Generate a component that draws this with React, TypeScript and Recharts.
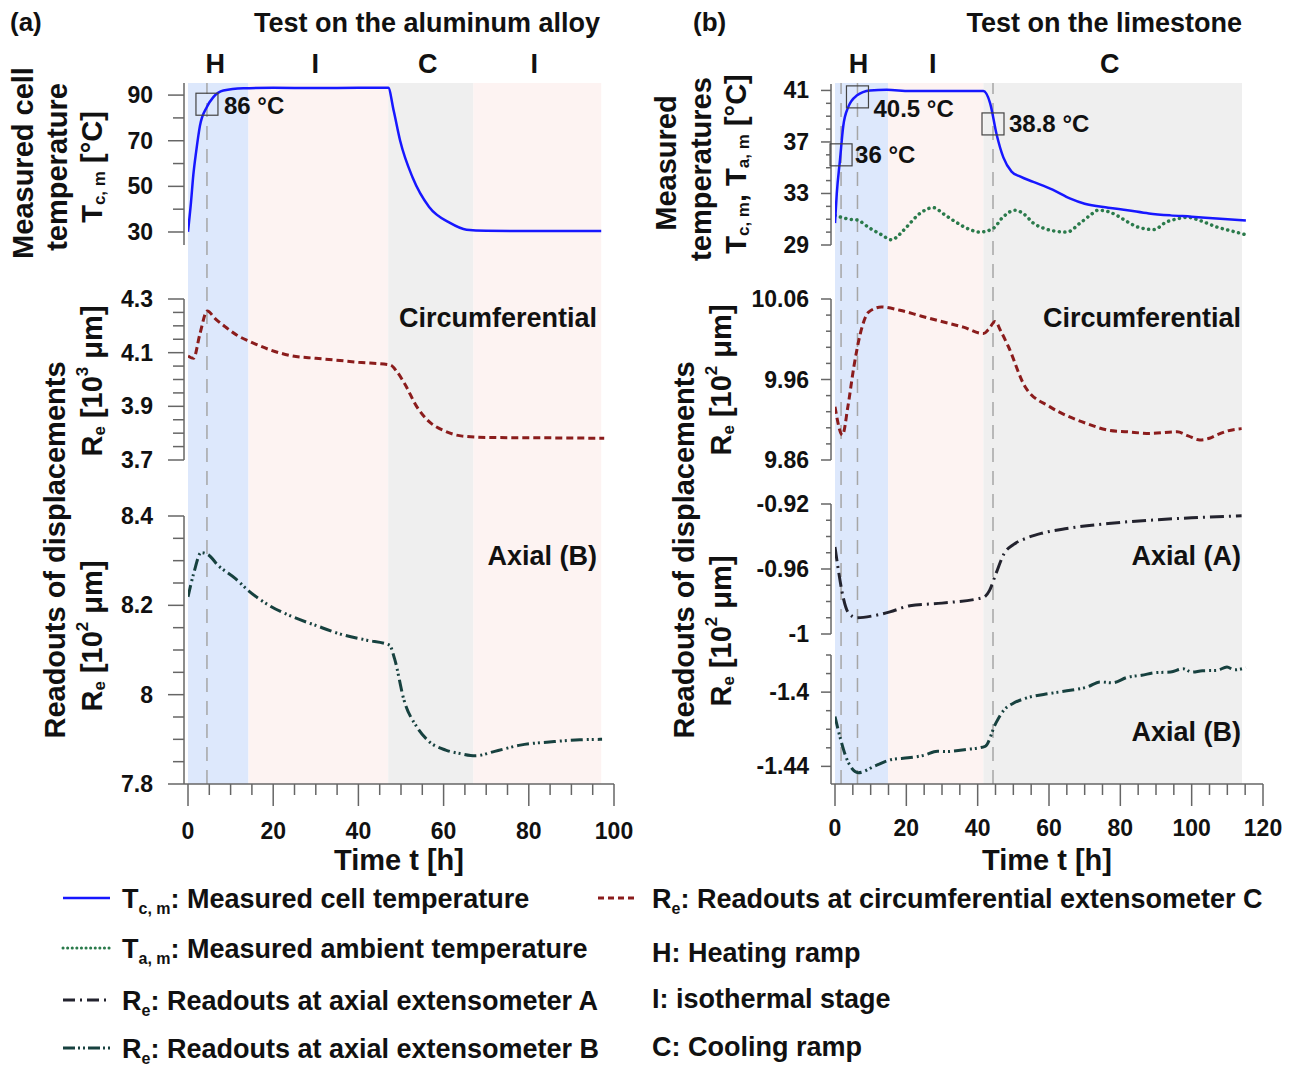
import React from "react";
import {
  LineChart,
  Line,
  XAxis,
  YAxis,
  ReferenceArea,
  ReferenceLine,
  ReferenceDot,
} from "recharts";

const FONT = '"Liberation Sans", Arial, Helvetica, sans-serif';
const PAGE_W = 1298;
const PAGE_H = 1066;
const AXIS = "#666";

const BLUE = "#1717ff";
const GREEN = "#2a7a4b";
const RED = "#8b1c1c";
const DARK = "#23232e";
const TEAL = "#17413f";

// ---- phases (hours) ----
const alPhaseNames = ["H", "I", "C", "I"];
const alPhaseStart = [0, 14.2, 47, 67];
const alPhaseEnd = [14.2, 47, 67, 97];
const lsPhaseNames = ["H", "I", "C"];
const lsPhaseStart = [0, 14.9, 41.6];
const lsPhaseEnd = [14.9, 41.6, 114.1];
const phaseFill: Record<string, string> = { H: "#dde8fc", I: "#fdf3f2", C: "#efefef" };

const alGuides = [4.45];
const lsGuides = [1.7, 6.3, 44.3];

// ---- x ticks ----
const alXTicks = [0, 5, 10, 15, 20, 25, 30, 35, 40, 45, 50, 55, 60, 65, 70, 75, 80, 85, 90, 95, 100];
const alXMajor = [0, 20, 40, 60, 80, 100];
const lsXTicks = [0, 5, 10, 15, 20, 25, 30, 35, 40, 45, 50, 55, 60, 65, 70, 75, 80, 85, 90, 95, 100, 105, 110, 115, 120];
const lsXMajor = [0, 20, 40, 60, 80, 100, 120];

// ---- y ticks ----
const alTempTicks = [30, 40, 50, 60, 70, 80, 90];
const alTempMajor = [30, 50, 70, 90];
const alCircTicks = [3.7, 3.75, 3.8, 3.85, 3.9, 3.95, 4, 4.05, 4.1, 4.15, 4.2, 4.25, 4.3];
const alCircMajor = [3.7, 3.9, 4.1, 4.3];
const alAxBTicks = [7.8, 7.85, 7.9, 7.95, 8, 8.05, 8.1, 8.15, 8.2, 8.25, 8.3, 8.35, 8.4];
const alAxBMajor = [7.8, 8, 8.2, 8.4];
const lsTempTicks = [29, 30, 31, 32, 33, 34, 35, 36, 37, 38, 39, 40, 41];
const lsTempMajor = [29, 33, 37, 41];
const lsCircTicks = [9.86, 9.88, 9.9, 9.92, 9.94, 9.96, 9.98, 10, 10.02, 10.04, 10.06];
const lsCircMajor = [9.86, 9.96, 10.06];
const lsAxATicks = [-1, -0.99, -0.98, -0.97, -0.96, -0.95, -0.94, -0.93, -0.92];
const lsAxAMajor = [-1, -0.96, -0.92];
const lsAxBTicks = [-1.44, -1.43, -1.42, -1.41, -1.4, -1.39, -1.38];
const lsAxBMajor = [-1.44, -1.4];

// ---- (a) aluminum alloy ----
const alTempT = [0, 0.7, 1.25, 1.9, 2.8, 4.4, 5.9, 8.3, 13, 20, 30, 40, 47, 48.3, 49.8, 52.7, 56.6, 61.5, 65.4, 70, 80, 90, 97];
const alTempV = [30.1, 43, 55, 65, 76.5, 84.7, 89, 92, 93, 93.2, 93.1, 93.2, 93.2, 83, 70, 54, 41, 34, 31, 30.5, 30.4, 30.4, 30.4];

const alCircT = [0, 1.3, 2.8, 4.5, 6.5, 8.7, 11.5, 14.6, 19, 24.4, 30, 34.2, 40, 47.5, 49, 50.8, 53.7, 56.6, 60, 64.4, 70, 80, 90, 97.7];
const alCircV = [4.088, 4.079, 4.17, 4.255, 4.225, 4.197, 4.165, 4.141, 4.112, 4.088, 4.079, 4.073, 4.064, 4.054, 4.03, 3.986, 3.899, 3.843, 3.81, 3.789, 3.784, 3.783, 3.782, 3.781];

const alAxBT = [0, 1.35, 3.1, 4.8, 7, 11, 14.3, 19, 24.4, 30, 36, 42, 47.3, 48.5, 50.7, 53.7, 56.6, 60.5, 64, 67.4, 72, 78, 86, 92, 97.2];
const alAxBV = [8.219, 8.272, 8.318, 8.313, 8.29, 8.261, 8.232, 8.2, 8.175, 8.155, 8.135, 8.122, 8.111, 8.08, 7.988, 7.928, 7.895, 7.876, 7.868, 7.863, 7.873, 7.887, 7.895, 7.899, 7.9];

// ---- (b) limestone ----
const lsTcT = [0, 0.5, 1.4, 2.3, 3.7, 6.1, 9.8, 14.5, 21, 28.5, 35, 41.6, 43.5, 45.3, 47.2, 49.5, 52, 55.6, 61, 66, 70, 76.6, 82, 88, 94, 100, 107, 115.2];
const lsTcV = [30.7, 33.0, 35.6, 38.2, 39.7, 40.6, 41.0, 41.05, 40.95, 40.95, 40.95, 40.95, 40.0, 37.6, 35.8, 34.7, 34.3, 33.9, 33.3, 32.6, 32.2, 31.9, 31.7, 31.45, 31.3, 31.2, 31.05, 30.9];

const lsTaT = [0, 4.2, 6.1, 9.8, 13, 15.9, 18, 20.1, 23.8, 27.6, 30.5, 33.2, 37.8, 40.7, 44.4, 47.2, 50.5, 53, 55.6, 58.5, 61.2, 65, 68.7, 71.5, 73.8, 76.5, 79, 82, 84.8, 89.4, 93, 95.5, 98.8, 102.3, 107, 111, 115.2];
const lsTaV = [31.3, 31.0, 30.95, 30.3, 29.8, 29.4, 29.8, 30.4, 31.45, 31.9, 31.4, 30.9, 30.2, 30.0, 30.3, 31.2, 31.7, 31.4, 30.7, 30.3, 30.1, 30.0, 30.7, 31.3, 31.7, 31.6, 31.3, 30.8, 30.4, 30.2, 30.8, 31.0, 31.15, 30.9, 30.4, 30.1, 29.8];

const lsCircT = [0, 2.1, 3.6, 5.3, 7.1, 9.5, 13, 18.2, 24, 29.9, 36, 41.6, 43, 44.9, 46.5, 48.6, 53.3, 60.3, 65, 70.8, 76.6, 82, 88.3, 95.9, 99, 102.3, 105, 107, 110, 114];
const lsCircV = [9.926, 9.891, 9.926, 9.976, 10.017, 10.044, 10.05, 10.046, 10.039, 10.032, 10.025, 10.017, 10.022, 10.032, 10.02, 10.001, 9.951, 9.926, 9.915, 9.905, 9.897, 9.895, 9.893, 9.895, 9.89, 9.885, 9.887, 9.891, 9.896, 9.899];

const lsAxAT = [0, 0.9, 2.3, 3.7, 6.1, 10.7, 15.4, 21, 30, 41.6, 43.3, 45.1, 47.4, 50, 53.3, 58, 65, 76.6, 88.3, 100, 114];
const lsAxAV = [-0.9465, -0.96, -0.9775, -0.9868, -0.99, -0.9888, -0.9864, -0.9826, -0.981, -0.9775, -0.9733, -0.963, -0.9506, -0.945, -0.9413, -0.938, -0.9351, -0.932, -0.93, -0.9285, -0.9273];

const lsAxBT = [0, 1.6, 3, 6.5, 11.2, 15.9, 20.5, 25, 28.7, 31, 36.9, 42.1, 45.1, 47.4, 50, 53.3, 60.3, 66, 70.8, 74.3, 77.8, 82, 86, 90, 94.1, 97.6, 100, 103, 107, 109.9, 112, 115.2];
const lsAxBV = [-1.4132, -1.4256, -1.4345, -1.4434, -1.4398, -1.4363, -1.4354, -1.434, -1.4318, -1.432, -1.4309, -1.4292, -1.4167, -1.4096, -1.406, -1.4034, -1.4007, -1.399, -1.3972, -1.3945, -1.395, -1.392, -1.3909, -1.3895, -1.3892, -1.3874, -1.3892, -1.3885, -1.3883, -1.3865, -1.388, -1.3868];

const rows = (t: number[], v: number[]) => t.map((x, i) => ({ t: x, v: v[i] }));

const isMajor = (list: number[], v: number) => list.some((m) => Math.abs(m - v) < 1e-6);

const YTick = (props: any) => {
  const { x, y, payload, majors, major, minor, gap } = props;
  const big = isMajor(majors, payload.value);
  return (
    <g>
      <line x1={x - (big ? major : minor)} x2={x} y1={y} y2={y} stroke={AXIS} strokeWidth={1.5} />
      {big && (
        <text x={x - gap} y={y} textAnchor="end" dominantBaseline="central" fontSize={23} fontWeight={700} fontFamily={FONT} fill="#111">
          {String(payload.value)}
        </text>
      )}
    </g>
  );
};

const XTick = (props: any) => {
  const { x, y, payload, majors, labelDy } = props;
  const big = isMajor(majors, payload.value);
  return (
    <g>
      <line x1={x} x2={x} y1={y} y2={y + (big ? 22 : 11)} stroke={AXIS} strokeWidth={1.5} />
      {big && (
        <text x={x} y={y + labelDy} textAnchor="middle" dominantBaseline="central" fontSize={23} fontWeight={700} fontFamily={FONT} fill="#111">
          {String(payload.value)}
        </text>
      )}
    </g>
  );
};

const Box = (p: any) => (
  <g>
    <rect x={p.cx - 11} y={p.cy - 11} width={22} height={22} fill="none" stroke="#444" strokeWidth={1.2} />
    <text x={p.cx + p.tx} y={p.cy + p.ty} dominantBaseline="central" fontSize={24} fontWeight={700} fontFamily={FONT} fill="#111">
      {p.text}
    </text>
  </g>
);

const PhaseLabel = (props: any) => {
  const { viewBox, value } = props;
  if (!viewBox) return null;
  return (
    <text x={viewBox.x + viewBox.width / 2 - 3} y={viewBox.y - 10} textAnchor="middle" fontSize={27} fontWeight={700} fontFamily={FONT} fill="#111">
      {value}
    </text>
  );
};

const Frame = ({ left, right, xMax, ticks, majors, labelDy, names, starts, ends, guides }: any) => (
  <div style={{ position: "absolute", left: 0, top: 0 }}>
    <LineChart
      width={PAGE_W}
      height={PAGE_H}
      data={[{ t: 0, y: 0 }, { t: xMax, y: 1 }]}
      margin={{ top: 83, left, right: PAGE_W - right, bottom: PAGE_H - 784 - 70 }}
    >
      {names.map((n: string, i: number) => (
        <ReferenceArea
          key={"a" + i}
          x1={starts[i]}
          x2={ends[i]}
          y1={0}
          y2={1}
          fill={phaseFill[n]}
          fillOpacity={1}
          stroke="none"
          ifOverflow="visible"
          label={<PhaseLabel value={n} />}
        />
      ))}
      {guides.map((g: number, i: number) => (
        <ReferenceLine key={"g" + i} x={g} stroke="#a6a6a6" strokeWidth={1.5} strokeDasharray="14 9" ifOverflow="visible" />
      ))}
      <Line dataKey="y" stroke="none" dot={false} isAnimationActive={false} />
      <YAxis hide type="number" dataKey="y" domain={[0, 1]} allowDataOverflow />
      <XAxis
        type="number"
        dataKey="t"
        domain={[0, xMax]}
        ticks={ticks}
        interval={0}
        allowDataOverflow
        padding={{ left: 4, right: 0 }}
        height={70}
        tickSize={0}
        tickMargin={0}
        tickLine={false}
        axisLine={{ stroke: AXIS, strokeWidth: 1.5 }}
        tick={<XTick majors={majors} labelDy={labelDy} />}
      />
    </LineChart>
  </div>
);

const Sub = ({ top, bottom, left, right, xMax, domain, ticks, majors, major, minor, gap, children }: any) => (
  <div style={{ position: "absolute", left: 0, top: 0 }}>
    <LineChart
      width={PAGE_W}
      height={PAGE_H}
      margin={{ top, bottom: PAGE_H - bottom, left: left - 80, right: PAGE_W - right }}
    >
      <XAxis hide type="number" dataKey="t" domain={[0, xMax]} padding={{ left: 4, right: 0 }} allowDataOverflow />
      <YAxis
        type="number"
        width={80}
        domain={domain}
        ticks={ticks}
        interval={0}
        allowDataOverflow
        tickSize={0}
        tickMargin={0}
        tickLine={false}
        axisLine={{ stroke: AXIS, strokeWidth: 1.5 }}
        tick={<YTick majors={majors} major={major} minor={minor} gap={gap} />}
      />
      {children}
    </LineChart>
  </div>
);

const T = { fontFamily: FONT, fontWeight: 700, fill: "#111" } as const;

const VTitle = ({ x, y, children }: any) => (
  <text transform={`translate(${x},${y}) rotate(-90)`} textAnchor="middle" dominantBaseline="central" fontSize={29} {...T}>
    {children}
  </text>
);

export default function App() {
  const A = { left: 184, right: 614, xMax: 100, major: 16, minor: 11, gap: 31 };
  const B = { left: 831, right: 1263, xMax: 120, major: 10, minor: 5, gap: 22 };
  return (
    <div style={{ position: "absolute", left: 0, top: 0, width: PAGE_W, height: PAGE_H, background: "#fff", fontFamily: FONT }}>
      <Frame left={A.left} right={A.right} xMax={A.xMax} ticks={alXTicks} majors={alXMajor} labelDy={47}
        names={alPhaseNames} starts={alPhaseStart} ends={alPhaseEnd} guides={alGuides} />
      <Frame left={B.left} right={B.right} xMax={B.xMax} ticks={lsXTicks} majors={lsXMajor} labelDy={44}
        names={lsPhaseNames} starts={lsPhaseStart} ends={lsPhaseEnd} guides={lsGuides} />

      {/* (a) */}
      <Sub {...A} top={83} bottom={245} domain={[24.3, 95.3]} ticks={alTempTicks} majors={alTempMajor}>
        <Line data={rows(alTempT, alTempV)} dataKey="v" type="monotone" stroke={BLUE} strokeWidth={2.5} dot={false} isAnimationActive={false} />
        <ReferenceDot x={4.45} y={86} r={0} shape={(p: any) => <Box {...p} text="86 °C" tx={17} ty={1} />} />
      </Sub>
      <Sub {...A} top={299} bottom={460} domain={[3.7, 4.3]} ticks={alCircTicks} majors={alCircMajor}>
        <Line data={rows(alCircT, alCircV)} dataKey="v" type="monotone" stroke={RED} strokeWidth={3} strokeDasharray="7 4" dot={false} isAnimationActive={false} />
      </Sub>
      <Sub {...A} top={516} bottom={784} domain={[7.8, 8.4]} ticks={alAxBTicks} majors={alAxBMajor}>
        <Line data={rows(alAxBT, alAxBV)} dataKey="v" type="monotone" stroke={TEAL} strokeWidth={3} strokeDasharray="12 4 2 3 2 4" dot={false} isAnimationActive={false} />
      </Sub>

      {/* (b) */}
      <Sub {...B} top={84} bottom={245} domain={[29, 41.5]} ticks={lsTempTicks} majors={lsTempMajor}>
        <Line data={rows(lsTaT, lsTaV)} dataKey="v" type="monotone" stroke={GREEN} strokeWidth={3.5} strokeDasharray="0.1 5.5" strokeLinecap="round" dot={false} isAnimationActive={false} />
        <Line data={rows(lsTcT, lsTcV)} dataKey="v" type="monotone" stroke={BLUE} strokeWidth={2.5} dot={false} isAnimationActive={false} />
        <ReferenceDot x={1.7} y={36} r={0} shape={(p: any) => <Box {...p} text="36 °C" tx={14} ty={0} />} />
        <ReferenceDot x={6.3} y={40.5} r={0} shape={(p: any) => <Box {...p} text="40.5 °C" tx={16} ty={12} />} />
        <ReferenceDot x={44.3} y={38.4} r={0} shape={(p: any) => <Box {...p} text="38.8 °C" tx={16} ty={0} />} />
      </Sub>
      <Sub {...B} top={299} bottom={460} domain={[9.86, 10.06]} ticks={lsCircTicks} majors={lsCircMajor}>
        <Line data={rows(lsCircT, lsCircV)} dataKey="v" type="monotone" stroke={RED} strokeWidth={3} strokeDasharray="7 4" dot={false} isAnimationActive={false} />
      </Sub>
      <Sub {...B} top={504} bottom={634} domain={[-1, -0.92]} ticks={lsAxATicks} majors={lsAxAMajor}>
        <Line data={rows(lsAxAT, lsAxAV)} dataKey="v" type="monotone" stroke={DARK} strokeWidth={3} strokeDasharray="14 5 2 5" dot={false} isAnimationActive={false} />
      </Sub>
      <Sub {...B} top={655} bottom={784} domain={[-1.4495, -1.38]} ticks={lsAxBTicks} majors={lsAxBMajor}>
        <Line data={rows(lsAxBT, lsAxBV)} dataKey="v" type="monotone" stroke={TEAL} strokeWidth={3} strokeDasharray="12 4 2 3 2 4" dot={false} isAnimationActive={false} />
      </Sub>

      <svg width={PAGE_W} height={PAGE_H} style={{ position: "absolute", left: 0, top: 0 }}>
        <text x={10} y={31} fontSize={26} {...T}>(a)</text>
        <text x={600} y={32} fontSize={27} textAnchor="end" {...T}>Test on the aluminum alloy</text>
        <text x={693} y={31} fontSize={26} {...T}>(b)</text>
        <text x={1242} y={32} fontSize={27} textAnchor="end" {...T}>Test on the limestone</text>

        <text x={597} y={327} fontSize={27} textAnchor="end" {...T}>Circumferential</text>
        <text x={597} y={565} fontSize={27} textAnchor="end" {...T}>Axial (B)</text>
        <text x={1241} y={327} fontSize={27} textAnchor="end" {...T}>Circumferential</text>
        <text x={1241} y={565} fontSize={27} textAnchor="end" {...T}>Axial (A)</text>
        <text x={1241} y={741} fontSize={27} textAnchor="end" {...T}>Axial (B)</text>

        <text x={399} y={870} fontSize={29} textAnchor="middle" {...T}>Time t [h]</text>
        <text x={1047} y={870} fontSize={29} textAnchor="middle" {...T}>Time t [h]</text>

        <VTitle x={23} y={163}>Measured cell</VTitle>
        <VTitle x={57} y={167}>temperature</VTitle>
        <VTitle x={92} y={167}>T<tspan fontSize={17} dy={7}>c, m</tspan><tspan dy={-7}> [°C]</tspan></VTitle>
        <VTitle x={55} y={550}>Readouts of displacements</VTitle>
        <VTitle x={92} y={381}>R<tspan fontSize={17} dy={7}>e</tspan><tspan dy={-7}> [10</tspan><tspan fontSize={17} dy={-10}>3</tspan><tspan dy={10}> μm]</tspan></VTitle>
        <VTitle x={92} y={636}>R<tspan fontSize={17} dy={7}>e</tspan><tspan dy={-7}> [10</tspan><tspan fontSize={17} dy={-10}>2</tspan><tspan dy={10}> μm]</tspan></VTitle>

        <VTitle x={666} y={163}>Measured</VTitle>
        <VTitle x={701} y={169}>temperatures</VTitle>
        <VTitle x={736} y={164}>T<tspan fontSize={17} dy={7}>c, m</tspan><tspan dy={-7}>,  T</tspan><tspan fontSize={17} dy={7}>a, m</tspan><tspan dy={-7}> [°C]</tspan></VTitle>
        <VTitle x={684} y={550}>Readouts of displacements</VTitle>
        <VTitle x={721} y={380}>R<tspan fontSize={17} dy={7}>e</tspan><tspan dy={-7}> [10</tspan><tspan fontSize={17} dy={-10}>2</tspan><tspan dy={10}> μm]</tspan></VTitle>
        <VTitle x={721} y={631}>R<tspan fontSize={17} dy={7}>e</tspan><tspan dy={-7}> [10</tspan><tspan fontSize={17} dy={-10}>2</tspan><tspan dy={10}> μm]</tspan></VTitle>

        {/* legend */}
        <line x1={63} x2={110} y1={898} y2={898} stroke={BLUE} strokeWidth={2.5} />
        <line x1={63} x2={110} y1={948} y2={948} stroke={GREEN} strokeWidth={3} strokeDasharray="0.1 4.5" strokeLinecap="round" />
        <line x1={63} x2={110} y1={1000} y2={1000} stroke={DARK} strokeWidth={3} strokeDasharray="12 5 2 5" />
        <line x1={63} x2={110} y1={1048} y2={1048} stroke={TEAL} strokeWidth={3} strokeDasharray="12 3 2 3 2 3" />
        <line x1={598} x2={637} y1={898} y2={898} stroke={RED} strokeWidth={3} strokeDasharray="6 4" />

        <text x={122} y={908} fontSize={27} {...T}>T<tspan fontSize={16} dy={6}>c, m</tspan><tspan dy={-6}>: Measured cell temperature</tspan></text>
        <text x={122} y={958} fontSize={27} {...T}>T<tspan fontSize={16} dy={6}>a, m</tspan><tspan dy={-6}>: Measured ambient temperature</tspan></text>
        <text x={122} y={1010} fontSize={27} {...T}>R<tspan fontSize={16} dy={6}>e</tspan><tspan dy={-6}>: Readouts at axial extensometer A</tspan></text>
        <text x={122} y={1058} fontSize={27} {...T}>R<tspan fontSize={16} dy={6}>e</tspan><tspan dy={-6}>: Readouts at axial extensometer B</tspan></text>
        <text x={652} y={908} fontSize={27} {...T}>R<tspan fontSize={16} dy={6}>e</tspan><tspan dy={-6}>: Readouts at circumferential extensometer C</tspan></text>
        <text x={652} y={962} fontSize={27} {...T}>H: Heating ramp</text>
        <text x={652} y={1008} fontSize={27} {...T}>I: isothermal stage</text>
        <text x={652} y={1056} fontSize={27} {...T}>C: Cooling ramp</text>
      </svg>
    </div>
  );
}
